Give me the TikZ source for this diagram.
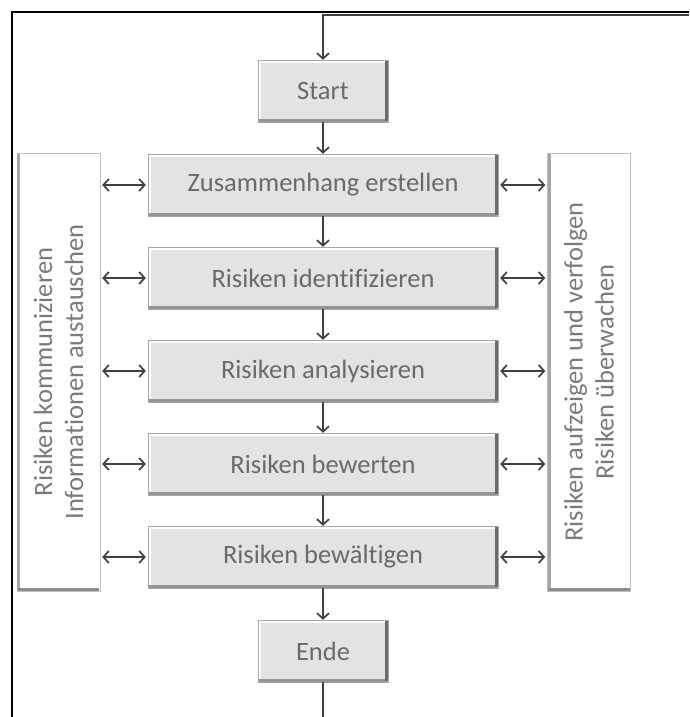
\documentclass[tikz,border=0pt]{standalone}
\usepackage{fontspec}
\setmainfont[Ligatures=NoCommon]{Carlito}
\usetikzlibrary{arrows.meta}

\definecolor{textgrau}{HTML}{6A6A6A}
\definecolor{pfeilgrau}{HTML}{404040}

\begin{document}
\begin{tikzpicture}[x=1pt,y=1pt,
  >={Straight Barb[length=5.5pt,width=12pt]},
  schritt/.style={draw=black!35, fill=black!11, text=textgrau, minimum height=62pt, inner sep=0pt, font=\fontsize{26.5}{31}\selectfont},
  seite/.style={draw=black!25, fill=white, minimum width=83pt, minimum height=438pt, inner sep=0pt},
  seitentext/.style={rotate=90, align=center, text=black!52, font=\fontsize{26.5}{31}\selectfont},
  pfeil/.style={->, draw=pfeilgrau, line width=1.7pt},
  doppelpfeil/.style={<->, draw=pfeilgrau, line width=1.7pt, shorten <=2pt, shorten >=2pt}]

	\useasboundingbox (0,0) rectangle (689,-717);

	% Rahmen
	\draw[line width=1.8pt] (12,-717) -- (12,-12) -- (689,-12);

	% Prozessschritte
	\node[schritt, minimum width=130pt] (start) at (323,-91) {Start};
	\node[schritt, minimum width=350pt] (zus) at (323,-185) {Zusammenhang erstellen};
	\node[schritt, minimum width=350pt] (ident) at (323,-278) {Risiken identifizieren};
	\node[schritt, minimum width=350pt] (anal) at (323,-371) {Risiken analysieren};
	\node[schritt, minimum width=350pt] (bew) at (323,-464) {Risiken bewerten};
	\node[schritt, minimum width=350pt] (bewae) at (323,-557) {Risiken bewältigen};
	\node[schritt, minimum width=130pt] (ende) at (323,-651) {Ende};

	% Kanten der Schritte
	\foreach \n in {start,zus,ident,anal,bew,bewae,ende}{
		\draw[white, line width=1.5pt] ([shift={(2pt,2pt)}]\n.south west) -- ([shift={(2pt,-2pt)}]\n.north west) -- ([shift={(-2pt,-2pt)}]\n.north east);
		\draw[black!42, line width=2.5pt] ([shift={(1pt,1.5pt)}]\n.south west) -- ([shift={(-1pt,1.5pt)}]\n.south east);
		\draw[black!58, line width=2.5pt] ([shift={(-1.5pt,-1pt)}]\n.north east) -- ([shift={(-1.5pt,1pt)}]\n.south east);
	}

	% Seitenleisten
	\node[seite] (links) at (58.5,-372) {};
	\node[seite] (rechts) at (589,-372) {};
	\foreach \n in {links,rechts}{
		\draw[black!35, line width=3pt] ([shift={(2pt,-1pt)}]\n.north west) -- ([shift={(2pt,1pt)}]\n.south west);
		\draw[black!45, line width=3pt] ([shift={(1pt,2pt)}]\n.south west) -- ([shift={(-1pt,2pt)}]\n.south east);
	}
	\node[seitentext] (linkstext) at (links.center) {Risiken kommunizieren\\Informationen austauschen};
	\node[seitentext] (rechtstext) at (rechts.center) {Risiken aufzeigen und verfolgen\\Risiken überwachen};

	% Pfeile nach links und rechts
	\foreach \n in {zus,ident,anal,bew,bewae}{
		\draw[doppelpfeil] (\n.west -| links.east) -- (\n.west);
		\draw[doppelpfeil] (\n.east) -- (\n.east -| rechts.west);
	}

	% Pfeile nach unten
	\draw[pfeil] (start) -- (zus);
	\draw[pfeil] (zus) -- (ident);
	\draw[pfeil] (ident) -- (anal);
	\draw[pfeil] (anal) -- (bew);
	\draw[pfeil] (bew) -- (bewae);
	\draw[pfeil] (bewae) -- (ende);

	% Rueckfuehrung und Ausgang
	\coordinate (rueck) at (689,-15);
	\coordinate (unten) at (323,-717);
	\draw[pfeil] (rueck) -| (start.north);
	\draw[draw=pfeilgrau, line width=1.7pt] (ende.south) -- (unten);
\end{tikzpicture}
\end{document}
